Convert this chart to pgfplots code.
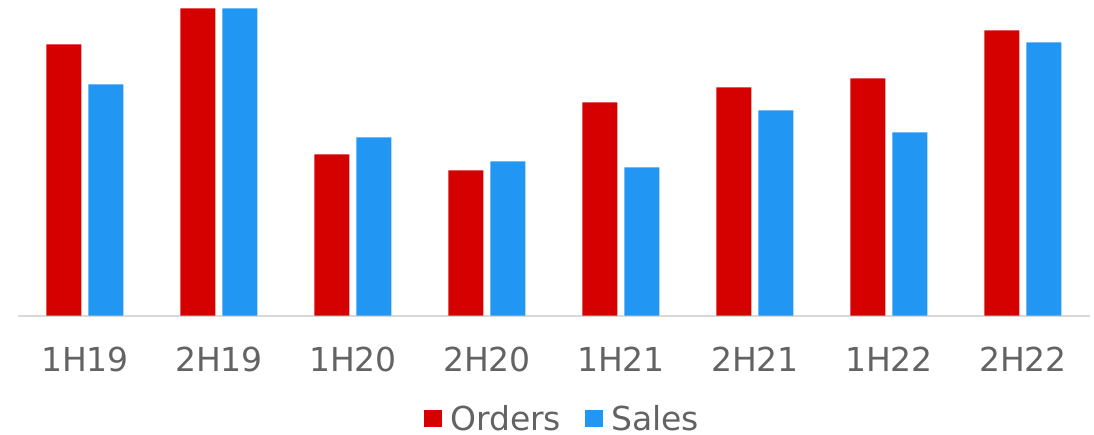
\documentclass[border=0pt]{standalone}
\usepackage{fontspec}
\setmainfont{DejaVu Sans}
\usepackage{pgfplots}
\pgfplotsset{compat=1.18}
\definecolor{colOrders}{HTML}{D50000}
\definecolor{colSales}{HTML}{2196F3}
\definecolor{colText}{HTML}{636363}
\definecolor{colAxis}{HTML}{D9D9D9}

\begin{document}
\begin{tikzpicture}
\useasboundingbox (-18bp,-119.5bp) rectangle (1076bp,315.5bp);
\begin{axis}[
  scale only axis,
  width=1072bp, height=307bp,
  ybar=7bp, bar width=35bp,
  xmin=-0.5, xmax=7.5,
  ymin=0, ymax=307,
  clip=false,
  axis y line=none,
  axis x line*=bottom,
  x axis line style={draw=colAxis, line width=2bp, -},
  xtick=data,
  xticklabels={1H19,2H19,1H20,2H20,1H21,2H21,1H22,2H22},
  major tick length=0pt,
  xtick style={draw=none},
  xticklabel style={font=\fontsize{33bp}{40bp}\selectfont, text=colText,
                    inner sep=0pt, anchor=north, yshift=-31bp},
  legend columns=2,
  legend style={at={(0.508,-0.336)}, anchor=center, draw=none, fill=none,
                font=\fontsize{33bp}{40bp}\selectfont, text=colText,
                nodes={inner ysep=0pt},
                /tikz/every odd column/.append style={column sep=6bp},
                /tikz/every even column/.append style={column sep=22bp}},
  legend image code/.code={\fill[#1,draw=none] (0bp,-8.5bp) rectangle (18bp,8.5bp);},
]
\addplot[fill=colOrders, draw=none] coordinates {
  (0,271) (1,307) (2,161) (3,145) (4,213) (5,228) (6,237) (7,285)
};
\addlegendentry{Orders}
\addplot[fill=colSales, draw=none] coordinates {
  (0,231) (1,307) (2,178) (3,154) (4,148) (5,205) (6,183) (7,273)
};
\addlegendentry{Sales}
\end{axis}
\end{tikzpicture}
\end{document}
